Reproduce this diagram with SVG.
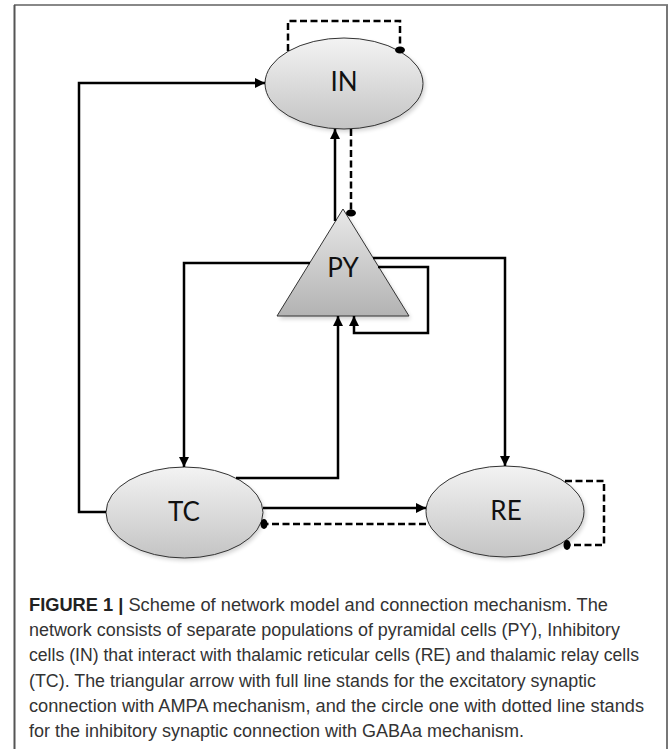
<svg xmlns="http://www.w3.org/2000/svg" width="670" height="749" viewBox="0 0 670 749">
<style>
.node{stroke:#333;stroke-width:1}
.lbl{font-family:Lato,"Open Sans","Liberation Sans",sans-serif;font-size:26px;fill:#111;text-anchor:middle}
.exc{fill:none;stroke:#000;stroke-width:2.5;marker-end:url(#arrow)}
.inh{fill:none;stroke:#000;stroke-width:2.5;stroke-dasharray:7,3.5;marker-end:url(#dot)}
.cap{font-family:"Liberation Sans",Arial,Helvetica,sans-serif;font-size:17.5px;fill:#333}
.capb{font-weight:bold;fill:#222}
</style>
<defs>
<linearGradient id="gEll" x1="0" y1="0" x2="0" y2="1">
<stop offset="0" stop-color="#f3f3f3"/>
<stop offset="1" stop-color="#c4c4c4"/>
</linearGradient>
<linearGradient id="gTri" x1="0" y1="0" x2="0" y2="1">
<stop offset="0" stop-color="#e8e8e8"/>
<stop offset="1" stop-color="#b3b3b3"/>
</linearGradient>
<filter id="sh" x="-20%" y="-20%" width="140%" height="140%">
<feGaussianBlur stdDeviation="2"/>
</filter>
<marker id="arrow" viewBox="0 0 10 10" refX="10" refY="5" markerWidth="10" markerHeight="10" markerUnits="userSpaceOnUse" orient="auto">
<path d="M0,0 L10,5 L0,10 z" fill="#000"/>
</marker>
<marker id="dot" viewBox="0 0 8 11" refX="4" refY="5.5" markerWidth="8" markerHeight="11" markerUnits="userSpaceOnUse" orient="auto">
<ellipse cx="4" cy="5.5" rx="3.5" ry="5" fill="#000"/>
</marker>
</defs>
<rect width="670" height="749" fill="#fff"/>
<g id="frame" fill="none">
<line x1="14" y1="5" x2="668" y2="5" stroke="#888" stroke-width="2"/>
<line x1="14.5" y1="5" x2="14.5" y2="749" stroke="#555" stroke-width="2"/>
<line x1="667" y1="5" x2="667" y2="749" stroke="#777" stroke-width="2"/>
</g>
<g id="shadows" fill="#000" opacity="0.18" filter="url(#sh)">
<ellipse cx="346" cy="86" rx="79" ry="45.5"/>
<ellipse cx="186" cy="515" rx="78.5" ry="45.5"/>
<ellipse cx="507" cy="514" rx="79" ry="45.5"/>
<path d="M345,212 L411,319 L279,319 z"/>
</g>
<g id="IN">
<ellipse class="node" cx="344" cy="83.5" rx="79" ry="45.5" fill="url(#gEll)"/>
<text class="lbl" x="344" y="91">IN</text>
</g>
<g id="PY">
<path class="node" d="M343,209 L409,316 L277,316 z" fill="url(#gTri)"/>
<text class="lbl" x="343" y="277">PY</text>
</g>
<g id="TC">
<ellipse class="node" cx="184.5" cy="512.5" rx="78.5" ry="45.5" fill="url(#gEll)"/>
<text class="lbl" x="184" y="521">TC</text>
</g>
<g id="RE">
<ellipse class="node" cx="505" cy="511.5" rx="79" ry="45.5" fill="url(#gEll)"/>
<text class="lbl" x="506" y="520">RE</text>
</g>
<g id="connectors">
<path class="exc" d="M106,512 H79 V83 H265"/>
<path class="exc" d="M335,221 V129"/>
<path class="inh" d="M351,129 V213"/>
<path class="inh" d="M288,51 V21 H400 V50"/>
<path class="exc" d="M310,263 H184 V467"/>
<path class="exc" d="M373,258 H505 V466"/>
<path class="exc" d="M378,267 H428 V333 H354 V316"/>
<path class="exc" d="M236,478 H338 V316"/>
<path class="exc" d="M263,508 H426"/>
<path class="inh" d="M426,524 H264"/>
<path class="inh" d="M565,481 H604 V545 H567"/>
</g>
<g id="caption">
<text class="cap" x="29" y="611" textLength="579" lengthAdjust="spacingAndGlyphs"><tspan class="capb">FIGURE 1 |</tspan> Scheme of network model and connection mechanism. The</text>
<text class="cap" x="29" y="636" textLength="591" lengthAdjust="spacingAndGlyphs">network consists of separate populations of pyramidal cells (PY), Inhibitory</text>
<text class="cap" x="29" y="661" textLength="610" lengthAdjust="spacingAndGlyphs">cells (IN) that interact with thalamic reticular cells (RE) and thalamic relay cells</text>
<text class="cap" x="29" y="687" textLength="567" lengthAdjust="spacingAndGlyphs">(TC). The triangular arrow with full line stands for the excitatory synaptic</text>
<text class="cap" x="29" y="712" textLength="615" lengthAdjust="spacingAndGlyphs">connection with AMPA mechanism, and the circle one with dotted line stands</text>
<text class="cap" x="29" y="737" textLength="495" lengthAdjust="spacingAndGlyphs">for the inhibitory synaptic connection with GABAa mechanism.</text>
</g>
</svg>
